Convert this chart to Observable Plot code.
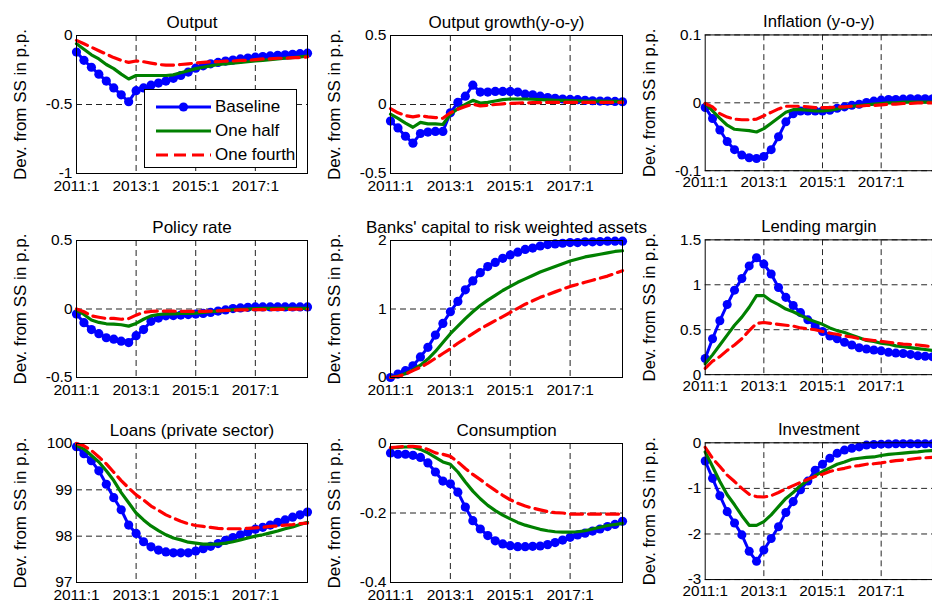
<!DOCTYPE html>
<html><head><meta charset="utf-8">
<script src="https://cdn.jsdelivr.net/npm/d3@7"></script>
<script src="https://cdn.jsdelivr.net/npm/@observablehq/plot@0.6"></script>
<style>
html,body{margin:0;padding:0;background:#fff;}
body{width:932px;height:604px;overflow:hidden;position:relative;font-family:"Liberation Sans",Arial,sans-serif;}
.panel{position:absolute;}
.panel svg{overflow:visible;}
#legend{position:absolute;left:144px;top:89px;width:151px;height:77px;border:1px solid #000;background:#fff;z-index:5;}
.lrow{position:absolute;left:0;height:20px;display:flex;align-items:center;font-size:17px;}
</style></head><body>
<script>
// ---- axis / legend data ----
const tickIndex = [0, 8, 16, 24];
const tickLabels = ["2011:1", "2013:1", "2015:1", "2017:1"];
const seriesNames = ["Baseline", "One half", "One fourth"];
const seriesColors = ["#0000ff", "#008000", "#ff0000"];
const yLabel = "Dev. from SS in p.p.";

// ---- values, quarterly 2011:1 .. 2018:4 ----
const outputBase = [-0.12,-0.18,-0.23,-0.28,-0.33,-0.38,-0.43,-0.48,-0.40,-0.38,-0.36,-0.345,-0.33,-0.31,-0.29,-0.265,-0.237,-0.22,-0.205,-0.195,-0.185,-0.178,-0.17,-0.163,-0.157,-0.152,-0.148,-0.144,-0.14,-0.136,-0.132,-0.128];
const outputHalf = [-0.06,-0.10,-0.14,-0.17,-0.21,-0.24,-0.28,-0.315,-0.29,-0.29,-0.29,-0.29,-0.29,-0.285,-0.27,-0.255,-0.24,-0.23,-0.22,-0.21,-0.205,-0.20,-0.195,-0.19,-0.185,-0.18,-0.175,-0.17,-0.165,-0.16,-0.155,-0.15];
const outputFourth = [-0.035,-0.06,-0.085,-0.11,-0.135,-0.16,-0.18,-0.195,-0.185,-0.19,-0.20,-0.21,-0.215,-0.215,-0.21,-0.205,-0.20,-0.195,-0.19,-0.19,-0.185,-0.185,-0.18,-0.18,-0.175,-0.17,-0.17,-0.165,-0.165,-0.16,-0.16,-0.155];

const growthBase = [-0.12,-0.17,-0.23,-0.28,-0.21,-0.20,-0.195,-0.195,-0.06,0.015,0.06,0.14,0.09,0.09,0.095,0.095,0.095,0.09,0.075,0.07,0.06,0.05,0.045,0.04,0.037,0.035,0.03,0.027,0.025,0.025,0.022,0.02];
const growthHalf = [-0.07,-0.10,-0.135,-0.165,-0.13,-0.14,-0.14,-0.145,-0.07,-0.03,0.0,0.03,0.01,0.015,0.025,0.035,0.04,0.04,0.04,0.038,0.035,0.033,0.03,0.03,0.028,0.027,0.025,0.025,0.024,0.023,0.022,0.021];
const growthFourth = [-0.03,-0.06,-0.08,-0.09,-0.08,-0.09,-0.095,-0.10,-0.06,-0.035,-0.015,0.003,-0.01,-0.005,0.0,0.005,0.008,0.01,0.012,0.013,0.014,0.015,0.015,0.015,0.015,0.015,0.015,0.015,0.015,0.015,0.015,0.015];

const inflBase = [-0.007,-0.023,-0.04,-0.057,-0.069,-0.077,-0.081,-0.082,-0.079,-0.069,-0.05,-0.028,-0.016,-0.012,-0.012,-0.012,-0.012,-0.011,-0.008,-0.006,-0.0035,-0.002,0.0005,0.0025,0.004,0.005,0.005,0.0055,0.006,0.006,0.006,0.006];
const inflHalf = [-0.001,-0.012,-0.023,-0.033,-0.039,-0.04,-0.041,-0.043,-0.038,-0.030,-0.022,-0.014,-0.01,-0.01,-0.011,-0.012,-0.012,-0.011,-0.009,-0.007,-0.005,-0.004,-0.003,-0.002,-0.001,0,0,0.001,0.001,0.001,0.001,0.001];
const inflFourth = [-0.001,-0.006,-0.016,-0.021,-0.024,-0.025,-0.025,-0.024,-0.019,-0.014,-0.009,-0.005,-0.005,-0.005,-0.006,-0.007,-0.007,-0.007,-0.006,-0.006,-0.005,-0.005,-0.004,-0.004,-0.003,-0.002,-0.002,-0.001,-0.001,0,0,0];

const policyBase = [-0.037,-0.10,-0.15,-0.18,-0.21,-0.22,-0.235,-0.245,-0.195,-0.15,-0.09,-0.066,-0.05,-0.048,-0.044,-0.041,-0.037,-0.032,-0.025,-0.015,-0.007,0.003,0.008,0.012,0.015,0.015,0.015,0.015,0.015,0.015,0.015,0.015];
const policyHalf = [-0.008,-0.04,-0.08,-0.098,-0.108,-0.11,-0.115,-0.125,-0.105,-0.075,-0.05,-0.04,-0.035,-0.035,-0.033,-0.032,-0.03,-0.025,-0.02,-0.015,-0.01,-0.005,-0.002,0,0.003,0.004,0.004,0.005,0.005,0.005,0.005,0.005];
const policyFourth = [0,-0.02,-0.05,-0.06,-0.07,-0.068,-0.075,-0.07,-0.045,-0.025,-0.018,-0.015,-0.015,-0.016,-0.017,-0.018,-0.018,-0.017,-0.015,-0.013,-0.01,-0.009,-0.007,-0.006,-0.005,-0.004,-0.004,-0.003,-0.003,-0.002,-0.002,-0.002];

const capitalBase = [0,0.05,0.1,0.17,0.3,0.44,0.62,0.79,0.96,1.11,1.28,1.41,1.53,1.62,1.68,1.74,1.79,1.83,1.87,1.89,1.92,1.94,1.95,1.96,1.97,1.97,1.98,1.98,1.985,1.99,1.99,1.99];
const capitalHalf = [0,0.02,0.06,0.11,0.18,0.27,0.38,0.51,0.64,0.75,0.86,0.96,1.05,1.13,1.20,1.27,1.33,1.39,1.44,1.49,1.54,1.58,1.62,1.66,1.70,1.73,1.76,1.78,1.80,1.82,1.84,1.85];
const capitalFourth = [0,0.015,0.05,0.1,0.15,0.21,0.28,0.35,0.42,0.50,0.57,0.64,0.71,0.77,0.83,0.89,0.95,1.01,1.07,1.12,1.17,1.21,1.25,1.29,1.33,1.36,1.39,1.42,1.45,1.48,1.52,1.56];

const marginBase = [0.18,0.40,0.60,0.78,0.94,1.07,1.21,1.30,1.23,1.12,0.97,0.86,0.77,0.69,0.61,0.54,0.48,0.43,0.40,0.36,0.33,0.30,0.285,0.275,0.265,0.25,0.24,0.235,0.225,0.21,0.205,0.20];
const marginHalf = [0.12,0.22,0.33,0.44,0.55,0.64,0.75,0.88,0.88,0.82,0.78,0.73,0.70,0.66,0.62,0.59,0.56,0.52,0.49,0.47,0.44,0.41,0.38,0.37,0.35,0.34,0.32,0.31,0.30,0.29,0.28,0.27];
const marginFourth = [0.07,0.15,0.20,0.27,0.33,0.40,0.49,0.57,0.58,0.57,0.56,0.55,0.54,0.52,0.51,0.50,0.48,0.46,0.45,0.43,0.42,0.40,0.39,0.38,0.37,0.36,0.35,0.34,0.335,0.33,0.32,0.31];

const loansBase = [99.93,99.78,99.63,99.41,99.12,98.83,98.57,98.24,98.06,97.88,97.77,97.70,97.66,97.64,97.64,97.64,97.68,97.73,97.78,97.84,97.91,97.97,98.03,98.09,98.15,98.19,98.24,98.30,98.35,98.41,98.46,98.52];
const loansHalf = [99.96,99.88,99.74,99.60,99.41,99.20,98.94,98.72,98.50,98.35,98.22,98.12,98.03,97.96,97.92,97.87,97.85,97.83,97.83,97.83,97.85,97.88,97.92,97.96,98.00,98.03,98.07,98.11,98.16,98.20,98.25,98.30];
const loansFourth = [100.0,99.95,99.85,99.71,99.56,99.38,99.20,99.04,98.89,98.78,98.65,98.56,98.46,98.39,98.32,98.27,98.23,98.21,98.19,98.17,98.16,98.16,98.16,98.17,98.18,98.19,98.21,98.22,98.24,98.25,98.27,98.28];

const consBase = [-0.027,-0.031,-0.031,-0.034,-0.04,-0.056,-0.082,-0.108,-0.116,-0.14,-0.183,-0.222,-0.246,-0.265,-0.28,-0.289,-0.294,-0.297,-0.297,-0.296,-0.295,-0.291,-0.285,-0.278,-0.27,-0.263,-0.258,-0.252,-0.246,-0.239,-0.233,-0.224];
const consHalf = [-0.013,-0.011,-0.01,-0.01,-0.017,-0.027,-0.04,-0.053,-0.06,-0.082,-0.111,-0.137,-0.159,-0.178,-0.193,-0.206,-0.217,-0.227,-0.235,-0.241,-0.247,-0.251,-0.254,-0.255,-0.255,-0.254,-0.251,-0.246,-0.241,-0.236,-0.233,-0.23];
const consFourth = [-0.012,-0.01,-0.008,-0.008,-0.01,-0.017,-0.027,-0.031,-0.037,-0.053,-0.072,-0.089,-0.104,-0.12,-0.135,-0.149,-0.162,-0.172,-0.18,-0.186,-0.191,-0.196,-0.199,-0.2,-0.203,-0.203,-0.203,-0.203,-0.203,-0.203,-0.203,-0.203];

const investBase = [-0.40,-0.78,-1.16,-1.51,-1.76,-2.02,-2.38,-2.60,-2.35,-2.10,-1.84,-1.53,-1.29,-1.03,-0.84,-0.60,-0.47,-0.34,-0.23,-0.16,-0.12,-0.09,-0.05,-0.036,-0.03,-0.025,-0.02,-0.02,-0.02,-0.02,-0.02,-0.02];
const investHalf = [-0.2,-0.52,-0.85,-1.14,-1.36,-1.60,-1.81,-1.81,-1.73,-1.58,-1.40,-1.22,-1.09,-0.94,-0.82,-0.72,-0.63,-0.55,-0.47,-0.42,-0.36,-0.34,-0.32,-0.31,-0.28,-0.255,-0.24,-0.225,-0.21,-0.2,-0.18,-0.17];
const investFourth = [-0.1,-0.34,-0.52,-0.71,-0.85,-1.0,-1.13,-1.18,-1.19,-1.16,-1.09,-1.01,-0.94,-0.87,-0.80,-0.74,-0.69,-0.63,-0.59,-0.56,-0.52,-0.50,-0.47,-0.46,-0.44,-0.415,-0.39,-0.38,-0.36,-0.34,-0.33,-0.32];

// ---- panel definitions ----
const panels = [
  {title: "Output", domain: [-1, 0], ticks: [-1, -0.5, 0], series: [outputBase, outputHalf, outputFourth]},
  {title: "Output growth(y-o-y)", domain: [-0.5, 0.5], ticks: [-0.5, 0, 0.5], series: [growthBase, growthHalf, growthFourth]},
  {title: "Inflation (y-o-y)", domain: [-0.1, 0.1], ticks: [-0.1, 0, 0.1], series: [inflBase, inflHalf, inflFourth]},
  {title: "Policy rate", domain: [-0.5, 0.5], ticks: [-0.5, 0, 0.5], series: [policyBase, policyHalf, policyFourth]},
  {title: "Banks' capital to risk weighted assets", domain: [0, 2], ticks: [0, 1, 2], series: [capitalBase, capitalHalf, capitalFourth]},
  {title: "Lending margin", domain: [0, 1.5], ticks: [0, 0.5, 1, 1.5], series: [marginBase, marginHalf, marginFourth]},
  {title: "Loans (private sector)", domain: [97, 100], ticks: [97, 98, 99, 100], series: [loansBase, loansHalf, loansFourth]},
  {title: "Consumption", domain: [-0.4, 0], ticks: [-0.4, -0.2, 0], series: [consBase, consHalf, consFourth]},
  {title: "Investment", domain: [-3, 0], ticks: [-3, -2, -1, 0], series: [investBase, investHalf, investFourth]}
];

// layout of the 3x3 grid
const colLeft = [0, 310, 625], colWidth = [310, 315, 312], colML = [76, 80, 81], colMR = [3, 3, 0];
const rowTop = [0, 200, 400], rowHeight = [200, 200, 204], rowMT = [35, 40, 43], rowMB = [27, 23, 22];

const font = '"Liberation Sans", Arial, sans-serif';
const gridStyle = {stroke: "#222", strokeWidth: 1, strokeDasharray: "6,4"};

panels.forEach((p, k) => {
  const col = k % 3, row = Math.floor(k / 3);
  const [base, half, fourth] = p.series;
  const chart = Plot.plot({
    width: colWidth[col], height: rowHeight[row],
    marginLeft: colML[col], marginRight: colMR[col], marginTop: rowMT[row], marginBottom: rowMB[row],
    style: {fontFamily: font, fontSize: "15.5px", color: "#000", background: "transparent", overflow: "visible"},
    x: {domain: [0, 31]},
    y: {domain: p.domain},
    marks: [
      Plot.ruleX(tickIndex.slice(1), gridStyle),
      Plot.ruleY(p.ticks, gridStyle),
      Plot.line(base, {x: (d, i) => i, y: d => d, stroke: seriesColors[0], strokeWidth: 3}),
      Plot.dot(base, {x: (d, i) => i, y: d => d, r: 4.6, fill: seriesColors[0], stroke: "none"}),
      Plot.line(half, {x: (d, i) => i, y: d => d, stroke: seriesColors[1], strokeWidth: 3.2}),
      Plot.line(fourth, {x: (d, i) => i, y: d => d, stroke: seriesColors[2], strokeWidth: 3.2, strokeDasharray: "12,6"}),
      Plot.frame({stroke: "#000", strokeWidth: 1}),
      Plot.axisX({ticks: tickIndex, tickFormat: i => tickLabels[tickIndex.indexOf(i)], tickSize: 0, tickPadding: 6, label: null}),
      Plot.axisY({ticks: p.ticks, tickFormat: d => String(d), tickSize: 0, tickPadding: 4, label: null}),
      Plot.text([yLabel], {frameAnchor: "left", textAnchor: "middle", lineAnchor: "middle", rotate: -90, dx: -56, fontSize: 17}),
      Plot.text([p.title], {frameAnchor: "top", textAnchor: "middle", dy: -20, fontSize: 17})
    ]
  });
  const div = document.createElement("div");
  div.className = "panel";
  div.style.left = colLeft[col] + "px";
  div.style.top = rowTop[row] + "px";
  div.appendChild(chart);
  document.body.appendChild(div);
});

// legend (inside the Output panel)
const legend = document.createElement("div");
legend.id = "legend";
seriesNames.forEach((name, s) => {
  const r = document.createElement("div");
  r.className = "lrow";
  r.style.top = (7 + s * 24) + "px";
  const dash = s === 2 ? ' stroke-dasharray="12,6"' : "";
  const dot = s === 0 ? `<circle cx="38.5" cy="10" r="4.6" fill="${seriesColors[0]}"/>` : "";
  r.innerHTML = `<svg width="70" height="20" style="display:block"><line x1="11" x2="66" y1="10" y2="10" stroke="${seriesColors[s]}" stroke-width="3.2"${dash}/>${dot}</svg><span>${name}</span>`;
  legend.appendChild(r);
});
document.body.appendChild(legend);
</script>
</body></html>
